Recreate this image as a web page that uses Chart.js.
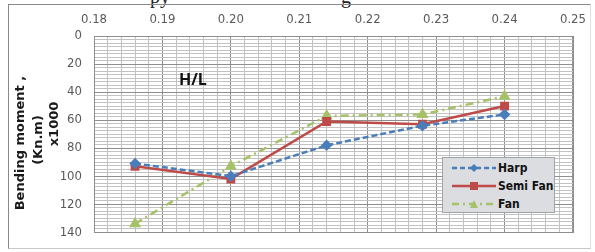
<!DOCTYPE html>
<html><head><meta charset="utf-8">
<script src="https://cdn.jsdelivr.net/npm/chart.js@4/dist/chart.umd.min.js"></script>
<style>
html,body{margin:0;padding:0;background:#fff;}
#wrap{position:relative;width:595px;height:252px;overflow:hidden;}
#frame{position:absolute;left:8px;top:4px;width:583px;height:245px;border:1px solid #8a8a8a;border-right-color:#e0e0e0;border-bottom-color:#c8c8c8;box-sizing:border-box;}
#cv{position:absolute;left:0;top:0;}
.frag{position:absolute;font-family:'Liberation Serif',serif;font-size:20px;line-height:20px;color:#222;}
#hl{position:absolute;left:179px;top:68px;font-family:'Open Sans',sans-serif;font-weight:bold;font-size:16px;color:#111;}
.yt{position:absolute;width:200px;height:18px;line-height:18px;text-align:center;white-space:nowrap;transform:rotate(-90deg);font-family:'DejaVu Sans',sans-serif;font-weight:bold;font-size:13px;color:#1a1a1a;}
#legend{position:absolute;left:442px;top:157px;width:113px;height:56px;background:#dcdde0;border:1px solid #a0a3a8;box-sizing:border-box;font-family:'DejaVu Sans Condensed','Liberation Sans',sans-serif;font-weight:bold;font-size:12px;color:#111;}
.row{position:absolute;left:9px;height:16px;display:flex;align-items:center;white-space:nowrap;}
.row svg{margin-right:2px;flex:none;}
</style></head>
<body>
<div id="wrap">
<div class="frag" style="left:150px;top:-14px;">py</div>
<div class="frag" style="left:341px;top:-14px;">g</div>
<div id="frame"></div>
<canvas id="cv" width="595" height="252"></canvas>
<div id="hl">H/L</div>
<div id="legend">
 <div class="row" style="top:2px;"><svg width="44" height="10"><line x1="0" y1="5" x2="44" y2="5" stroke="#4a7ebb" stroke-width="2.5" stroke-dasharray="5,3"/><polygon points="22,1 26,5 22,9 18,5" fill="#4a7ebb"/></svg><span>Harp</span></div>
 <div class="row" style="top:20px;"><svg width="44" height="10"><line x1="0" y1="5" x2="44" y2="5" stroke="#be4b48" stroke-width="2.5"/><rect x="18" y="1" width="8" height="8" fill="#be4b48"/></svg><span>Semi Fan</span></div>
 <div class="row" style="top:38px;"><svg width="44" height="10"><line x1="0" y1="5" x2="44" y2="5" stroke="#a5c266" stroke-width="2.5" stroke-dasharray="7,4,2,4"/><polygon points="22,1 26,9 18,9" fill="#a5c266"/></svg><span>Fan</span></div>
</div>
</div>
<script>
// ---- data ----
const xValues = [0.186, 0.200, 0.214, 0.228, 0.240];
const harp    = [91, 100, 78, 64, 56];
const semiFan = [93, 102, 61, 63, 50];
const fan     = [134, 93, 57, 56, 43];
const xTickLabels = [0.18, 0.19, 0.20, 0.21, 0.22, 0.23, 0.24, 0.25];
const yTickLabels = [0, 20, 40, 60, 80, 100, 120, 140];
const yTitle = ['Bending moment ,', '(Kn.m)', 'x1000'];

// y-axis title as real text (rotated)
const ytCenters = [[20, 143], [38, 140], [54, 124]];
yTitle.forEach((t, i) => {
  const d = document.createElement('div');
  d.className = 'yt'; d.textContent = t;
  d.style.left = (ytCenters[i][0] - 100) + 'px';
  d.style.top = (ytCenters[i][1] - 9) + 'px';
  document.getElementById('wrap').appendChild(d);
});

const pts = arr => arr.map((v, i) => ({x: xValues[i], y: v}));
const isMajor = (v, list) => list.some(t => Math.abs(t - v) < 1e-7);
const tickFont = {family: "'DejaVu Sans Condensed','Liberation Sans',sans-serif", size: 13};
const MAJOR = '#8e8e8e', MINOR = '#c2c2c2';

new Chart(document.getElementById('cv'), {
  type: 'scatter',
  data: {
    datasets: [
      {label: 'Harp', data: pts(harp), showLine: true, borderColor: '#4a7ebb', backgroundColor: '#4a7ebb',
       borderWidth: 2.5, borderDash: [6, 3], pointStyle: 'rectRot', pointRadius: 4, pointHoverRadius: 4},
      {label: 'Semi Fan', data: pts(semiFan), showLine: true, borderColor: '#be4b48', backgroundColor: '#be4b48',
       borderWidth: 2.5, pointStyle: 'rect', pointRadius: 4.5, pointHoverRadius: 4.5},
      {label: 'Fan', data: pts(fan), showLine: true, borderColor: '#a5c266', backgroundColor: '#a5c266',
       borderWidth: 2.5, borderDash: [8, 4, 2, 4], pointStyle: 'triangle', pointRadius: 4.5, pointHoverRadius: 4.5}
    ]
  },
  options: {
    responsive: false, animation: false,
    layout: {padding: {left: 0, right: 13, top: 0, bottom: 9}},
    plugins: {legend: {display: false}, tooltip: {enabled: false}},
    scales: {
      x: {
        type: 'linear', position: 'top',
        min: xTickLabels[0], max: xTickLabels[xTickLabels.length - 1],
        afterFit: s => { s.height = 36; },
        ticks: {stepSize: 0.002, maxTicksLimit: 200, autoSkip: false, maxRotation: 0, padding: 9, color: '#595959', font: tickFont,
          callback: v => isMajor(v, xTickLabels) ? v.toFixed(2) : ''},
        grid: {drawTicks: false, color: c => (c.tick && isMajor(c.tick.value, xTickLabels)) ? MAJOR : MINOR, lineWidth: 1},
        border: {display: true, color: MAJOR}
      },
      y: {
        type: 'linear', reverse: true,
        min: yTickLabels[0], max: yTickLabels[yTickLabels.length - 1],
        afterFit: s => { s.width = 94; },
        ticks: {stepSize: 2.5, maxTicksLimit: 200, autoSkip: false, padding: 12, color: '#595959', font: tickFont,
          callback: v => isMajor(v, yTickLabels) ? String(v) : ''},
        grid: {drawTicks: false, color: c => (c.tick && isMajor(c.tick.value, yTickLabels)) ? MAJOR : MINOR, lineWidth: 1},
        border: {display: true, color: MAJOR}
      }
    }
  },
  plugins: [{
    id: 'areaBorder',
    afterDraw(chart) {
      const a = chart.chartArea, ctx = chart.ctx;
      ctx.save(); ctx.strokeStyle = MAJOR; ctx.lineWidth = 1;
      ctx.strokeRect(Math.round(a.left) + 0.5, Math.round(a.top) + 0.5, Math.round(a.right - a.left), Math.round(a.bottom - a.top));
      ctx.restore();
    }
  }]
});
</script>
</body></html>
